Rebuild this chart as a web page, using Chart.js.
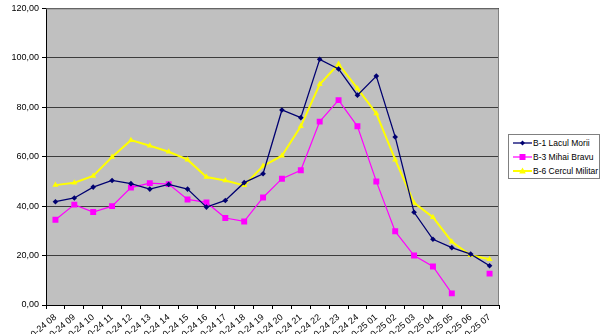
<!DOCTYPE html>
<html>
<head>
<meta charset="utf-8">
<script src="https://cdn.jsdelivr.net/npm/chart.js@4"></script>
<style>
  html, body { margin:0; padding:0; background:#fff; }
  #wrap { position:relative; width:600px; height:334px; overflow:hidden; }
  #legend { position:absolute; left:508px; top:134px; width:90px; height:43px; border:1px solid #808080; background:#fff;
            font-family:"Liberation Sans", Arial, sans-serif; font-size:8.5px; color:#000; }
  .row { position:absolute; left:0; height:12px; white-space:nowrap; }
  .row svg { position:absolute; left:4px; top:0; }
  .row span { position:absolute; left:24px; top:0; line-height:12px; }
</style>
</head>
<body>
<div id="wrap">
<canvas id="c" width="600" height="334"></canvas>
<div id="legend">
  <div class="row" style="top:2px"><svg width="19" height="12"><line x1="0" y1="6" x2="19" y2="6" stroke="#000070" stroke-width="1.3"/><polygon points="9.5,3.5 12,6 9.5,8.5 7,6" fill="#000070"/></svg><span>B-1 Lacul Morii</span></div>
  <div class="row" style="top:16px"><svg width="19" height="12"><line x1="0" y1="6" x2="19" y2="6" stroke="#ff00ff" stroke-width="1.2"/><rect x="6.5" y="3" width="6" height="6" fill="#ff00ff"/></svg><span>B-3 Mihai Bravu</span></div>
  <div class="row" style="top:30px"><svg width="19" height="12"><line x1="0" y1="6" x2="19" y2="6" stroke="#ffff00" stroke-width="2"/><polygon points="9.5,2.5 12.8,8.5 6.2,8.5" fill="#ffff00"/></svg><span>B-6 Cercul Militar</span></div>
</div>
</div>
<script>
const categories = ["0-24 08","0-24 09","0-24 10","0-24 11","0-24 12","0-24 13","0-24 14","0-24 15","0-24 16","0-24 17","0-24 18","0-24 19","0-24 20","0-24 21","0-24 22","0-24 23","0-24 24","0-25 01","0-25 02","0-25 03","0-25 04","0-25 05","0-25 06","0-25 07"];
const laculMorii = [41.8,43.3,47.7,50.4,49.1,46.9,48.8,46.9,39.6,42.3,49.5,53.1,78.9,75.8,99.4,95.5,84.9,92.6,68.0,37.5,26.6,23.2,20.6,15.9];
const mihaiBravu = [34.5,40.6,37.6,40.0,47.5,49.3,48.9,42.7,41.5,35.2,33.8,43.5,51.1,54.5,74.2,82.9,72.3,50.0,29.8,20.0,15.6,4.7,null,12.7];
const cerculMilitar = [48.5,49.5,52.2,59.9,66.7,64.4,62.0,58.8,51.8,50.4,48.4,56.2,60.4,72.3,89.3,97.5,87.6,77.5,58.8,41.3,35.5,25.6,20.1,18.5];
const yTicks = [0,20,40,60,80,100,120];

const bgPlugin = {
  id:'plotBg',
  beforeDraw(chart){
    const {ctx, chartArea:a} = chart;
    ctx.save();
    ctx.fillStyle = '#c0c0c0';
    ctx.fillRect(a.left, a.top, a.right-a.left, a.bottom-a.top);
    ctx.restore();
  },
  afterDatasetsDraw(chart){
    const {ctx, chartArea:a} = chart;
    ctx.save();
    ctx.strokeStyle = '#808080';
    ctx.lineWidth = 1;
    ctx.beginPath();
    ctx.moveTo(a.left, a.top+0.5); ctx.lineTo(a.right-0.5, a.top+0.5); ctx.lineTo(a.right-0.5, a.bottom);
    ctx.stroke();
    ctx.restore();
  }
};

new Chart(document.getElementById('c'), {
  type:'line',
  data:{
    labels: categories,
    datasets:[
      {label:'B-1 Lacul Morii', data:laculMorii, borderColor:'#000070', backgroundColor:'#000070', borderWidth:1.3, pointStyle:'rectRot', pointRadius:2.8, pointBorderWidth:0, tension:0, order:1},
      {label:'B-3 Mihai Bravu', data:mihaiBravu, borderColor:'#ff00ff', backgroundColor:'#ff00ff', borderWidth:1.2, pointStyle:'rect', pointRadius:4.2, pointBorderWidth:0, tension:0, spanGaps:false, order:3},
      {label:'B-6 Cercul Militar', data:cerculMilitar, borderColor:'#ffff00', backgroundColor:'#ffff00', borderWidth:2, pointStyle:'triangle', pointRadius:3.5, pointBorderWidth:0, tension:0, order:2}
    ]
  },
  options:{
    responsive:false,
    animation:false,
    layout:{padding:{left:0, right:101, top:8, bottom:0}},
    plugins:{legend:{display:false}, tooltip:{enabled:false}},
    scales:{
      x:{
        offset:true,
        grid:{display:true, drawOnChartArea:false, drawTicks:true, tickLength:4, color:'#000', offset:true},
        border:{display:true, color:'#000', width:1},
        ticks:{autoSkip:false, minRotation:40, maxRotation:40, color:'#000', padding:3,
               font:{family:'"Liberation Sans", Arial, sans-serif', size:9}},
        afterFit(scale){ scale.height = 29; }
      },
      y:{
        min:0, max:120,
        afterBuildTicks(scale){ scale.ticks = yTicks.map(v=>({value:v})); },
        grid:{color:'#3c3c3c', lineWidth:1, drawTicks:true, tickLength:4, tickColor:'#000'},
        border:{display:true, color:'#000', width:1},
        ticks:{color:'#000', padding:3, font:{family:'"Liberation Sans", Arial, sans-serif', size:9},
               callback:(v)=>Number(v).toFixed(2).replace('.',',')},
        afterFit(scale){ scale.width = 46; }
      }
    }
  },
  plugins:[bgPlugin]
});
</script>
</body>
</html>
